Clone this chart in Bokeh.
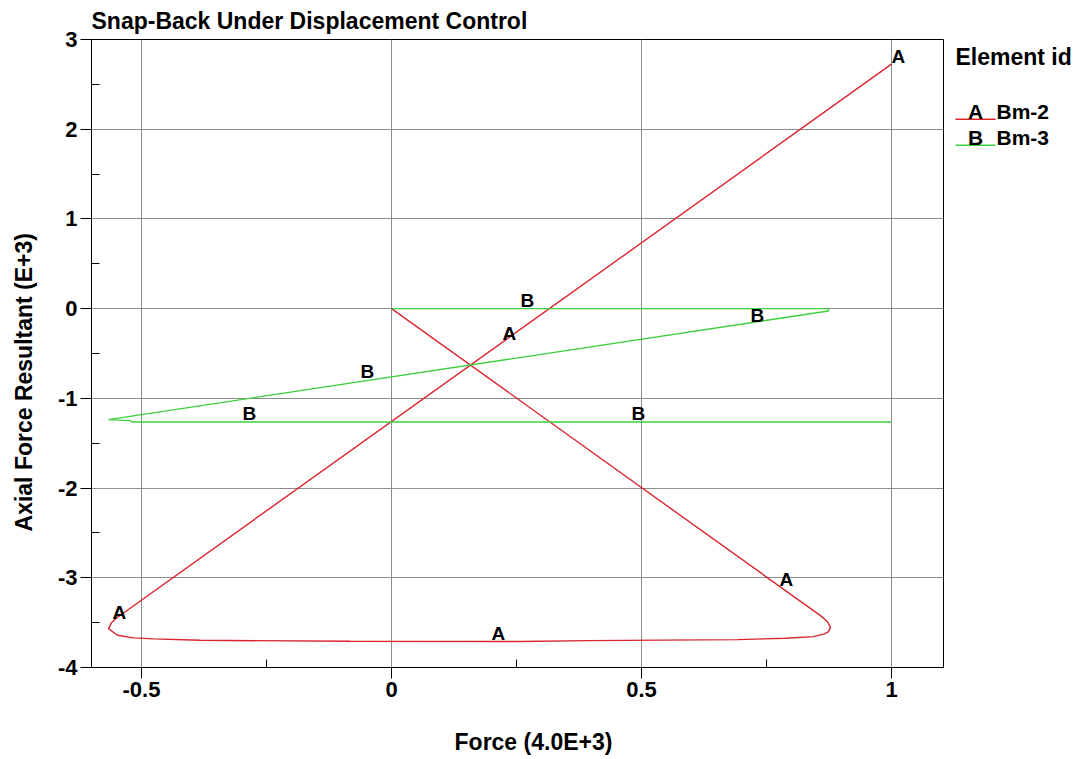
from bokeh.plotting import figure
from bokeh.layouts import row
from bokeh.models import Range1d, FixedTicker, ColumnDataSource
from bokeh.core.properties import value
from bokeh.embed import file_html
from bokeh.resources import INLINE

FONT = "Liberation Sans"
NBSP = "\u00a0"

title_text = "Snap-Back Under Displacement Control"
x_title = "Force (4.0E+3)"
y_title = "Axial Force Resultant (E+3)"
legend_title = "Element id"

# axis ticks
x_ticks = [-0.5, 0.0, 0.5, 1.0]
x_tick_labels = ["-0.5", "0", "0.5", "1"]
x_minor_ticks = [-0.25, 0.25, 0.75]
y_ticks = [-4, -3, -2, -1, 0, 1, 2, 3]
y_tick_labels = ["-4", "-3", "-2", "-1", "0", "1", "2", "3"]
y_minor_ticks = [-3.5, -2.5, -1.5, -0.5, 0.5, 1.5, 2.5]

# elements
series_ids = ["A", "B"]
series_names = ["Bm-2", "Bm-3"]
series_colors = ["#d8262c", "#3fcf3f"]

# element A (Bm-2): force vs axial force resultant
a_force = [0.0, 0.858, 0.872, 0.878, 0.874, 0.866, 0.844, 0.788, 0.692, 0.394, 0.258,
           -0.082, -0.382, -0.476, -0.516, -0.548, -0.566, -0.560, -0.552, 1.0]
a_axial = [0.0, -3.422, -3.490, -3.552, -3.600, -3.625, -3.656, -3.674, -3.689, -3.700, -3.711,
           -3.708, -3.697, -3.681, -3.670, -3.640, -3.567, -3.500, -3.456, 2.725]

# element B (Bm-3)
b_force = [0.0, 0.874, 0.874, -0.566, -0.522, -0.520, 1.0]
b_axial = [0.0, 0.0, -0.026, -1.237, -1.248, -1.263, -1.263]

# curve id markers placed along each path
a_mark_force = [1.0, 0.222, 0.776, 0.200, -0.558]
a_mark_axial = [2.725, -0.366, -3.104, -3.711, -3.480]
b_mark_force = [0.258, 0.718, -0.062, -0.298, 0.480]
b_mark_axial = [0.0, -0.163, -0.795, -1.263, -1.263]

FRAME_TOP, FRAME_BOTTOM = 38, 667

p = figure(width=944, height=759,
           x_range=Range1d(-0.6, 1.104), y_range=Range1d(-4, 3),
           output_backend="svg", toolbar_location=None,
           min_border_left=91, min_border_right=1,
           min_border_top=FRAME_TOP, min_border_bottom=759 - FRAME_BOTTOM,
           title=title_text)

p.background_fill_color = "white"
p.border_fill_color = "white"
p.outline_line_color = "black"
p.outline_line_width = 1

p.title.text_font = FONT
p.title.text_font_style = "bold"
p.title.text_font_size = "23px"
p.title.align = "left"
p.title.text_color = "black"
p.title.standoff = 11

xax = p.xaxis[0]
yax = p.yaxis[0]
xax.ticker = FixedTicker(ticks=x_ticks, minor_ticks=x_minor_ticks)
yax.ticker = FixedTicker(ticks=y_ticks, minor_ticks=y_minor_ticks)
xax.major_label_overrides = dict(zip(x_ticks, x_tick_labels))
yax.major_label_overrides = dict(zip([float(v) for v in y_ticks], y_tick_labels))
# axis titles are centred on the whole canvas rather than the frame
xax.axis_label = NBSP * 5 + x_title
yax.axis_label = y_title + NBSP * 9

for ax in (xax, yax):
    ax.axis_line_color = "black"
    ax.major_tick_line_color = "black"
    ax.minor_tick_line_color = "black"
    ax.major_tick_in = 0
    ax.major_tick_out = 11
    ax.minor_tick_in = 8
    ax.minor_tick_out = 0
    ax.major_label_text_font = FONT
    ax.major_label_text_font_style = "bold"
    ax.major_label_text_font_size = "22px"
    ax.major_label_text_color = "black"
    ax.axis_label_text_font = FONT
    ax.axis_label_text_font_style = "bold"
    ax.axis_label_text_font_size = "23px"
    ax.axis_label_text_color = "black"

xax.major_label_standoff = 3
yax.major_label_standoff = 3
xax.axis_label_standoff = 29
yax.axis_label_standoff = 18

for g in (p.xgrid[0], p.ygrid[0]):
    g.grid_line_color = "#8c8c8c"
    g.grid_line_width = 1

paths = [(a_force, a_axial), (b_force, b_axial)]
marks = [(a_mark_force, a_mark_axial), (b_mark_force, b_mark_axial)]

for (fx, fy), (mx, my), sid, col in zip(paths, marks, series_ids, series_colors):
    p.line(fx, fy, line_color=col, line_width=1.4)
    src = ColumnDataSource(dict(x=mx, y=my, t=[sid] * len(mx)))
    p.text(x="x", y="y", text="t", source=src, y_offset=-8,
           text_font=value(FONT), text_font_style="bold", text_font_size="19px",
           text_color="black", text_align="left", text_baseline="middle")

# legend panel: x in pixels from the panel's left edge, y in canvas pixels from the top
lg = figure(width=136, height=759, x_range=Range1d(0, 136),
            y_range=Range1d(FRAME_BOTTOM, FRAME_TOP),
            output_backend="svg", toolbar_location=None,
            x_axis_location=None, y_axis_location=None,
            min_border_left=0, min_border_right=0,
            min_border_top=FRAME_TOP, min_border_bottom=759 - FRAME_BOTTOM)
lg.outline_line_color = None
lg.background_fill_color = "white"
lg.border_fill_color = "white"
lg.xgrid.visible = False
lg.ygrid.visible = False

lg.text(x=[11], y=[56], text=[legend_title],
        text_font=value(FONT), text_font_style="bold", text_font_size="23px",
        text_color="black", text_align="left", text_baseline="middle")

legend_rows = [110, 136]
lg.segment(x0=[11] * 2, y0=[r + 8 for r in legend_rows],
           x1=[51] * 2, y1=[r + 8 for r in legend_rows],
           line_color=series_colors, line_width=1.5)
lg.text(x=[31] * 2, y=legend_rows, text=series_ids,
        text_font=value(FONT), text_font_style="bold", text_font_size="21px",
        text_color="black", text_align="center", text_baseline="middle")
lg.text(x=[52] * 2, y=legend_rows, text=series_names,
        text_font=value(FONT), text_font_style="bold", text_font_size="21px",
        text_color="black", text_align="left", text_baseline="middle")

layout = row(p, lg, spacing=0)
open("out.html", "w").write(file_html(layout, INLINE))
